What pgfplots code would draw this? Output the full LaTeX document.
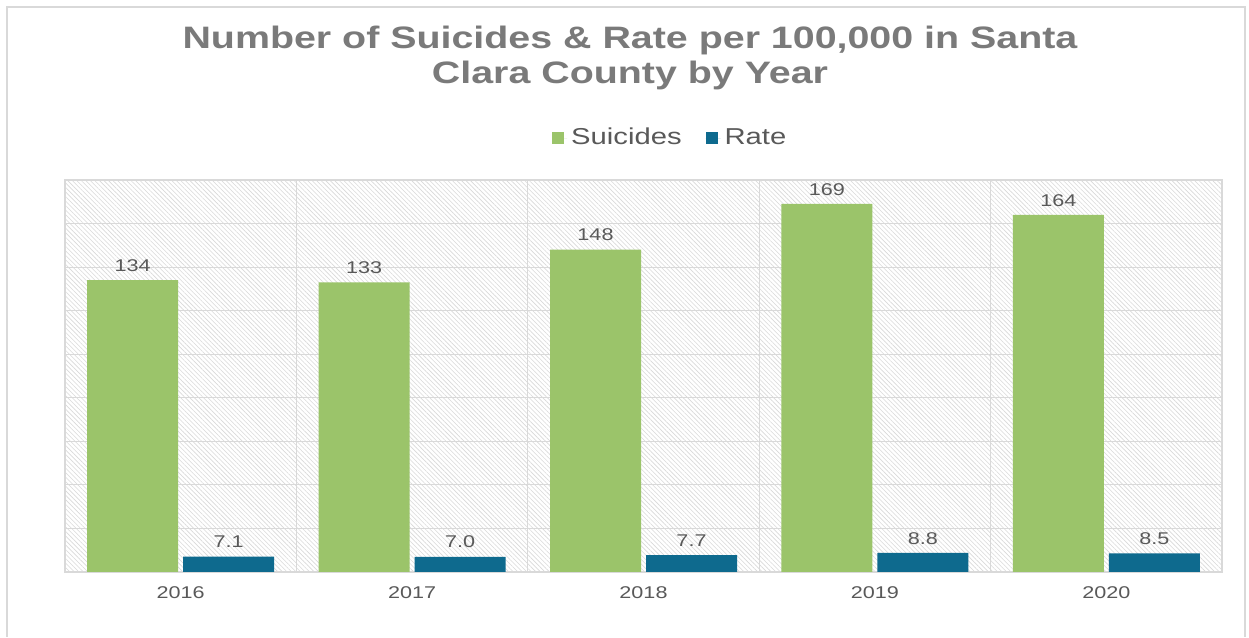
\documentclass[border=0pt]{standalone}
\usepackage{pgfplots}
\pgfplotsset{compat=1.18}
\usepackage{fontspec}
\setmainfont{Liberation Sans}[FakeStretch=1.27]
\usetikzlibrary{patterns.meta}
\definecolor{txtgray}{HTML}{595959}
\definecolor{titlegray}{HTML}{7A7A7A}
\definecolor{sgreen}{HTML}{9BC46A}
\definecolor{rblue}{HTML}{0E6A8E}
\definecolor{gridgray}{HTML}{D9D9D9}
\begin{document}
\begin{tikzpicture}
\path[fill=white] (0,0) rectangle (624.5pt,318.5pt);
\draw[gray!30, line width=0.8pt] (3.5pt,0) -- (3.5pt,315pt) -- (622.5pt,315pt) -- (622.5pt,0);
\node[align=center, text=titlegray, font=\fontsize{15.5}{17.5}\selectfont\bfseries] at (315pt,289.3pt)
  {Number of Suicides \& Rate per 100,000 in Santa\\Clara County by Year};
\begin{axis}[
  at={(32.5pt,32.5pt)}, anchor=south west,
  scale only axis, width=578.5pt, height=196pt,
  ybar, bar width=45.5pt, ybar=2.5pt,
  xmin=-0.5, xmax=4.5, ymin=0, ymax=180,
  xtick={0,1,2,3,4}, xticklabels={2016,2017,2018,2019,2020},
  minor xtick={0.5,1.5,2.5,3.5}, xminorgrids=true,
  ytick={0,20,...,180}, yticklabels={}, ymajorgrids=true,
  major tick length=0, minor tick length=0,
  grid style={gridgray, line width=0.6pt},
  minor grid style={gridgray, line width=0.6pt},
  axis line style={gridgray, line width=0.6pt},
  axis background/.style={pattern={Lines[angle=-45,distance=1.6pt,line width=0.3pt]}, pattern color=gray!30},
  tick label style={text=txtgray, font=\fontsize{8.5}{10}\selectfont},
  xticklabel style={yshift=-4pt},
  /pgf/number format/assume math mode=true,
  nodes near coords style={text=txtgray, font=\fontsize{8.5}{10}\selectfont, anchor=south, yshift=0.8pt},
  legend columns=2,
  legend style={at={(0.524,1.107)}, anchor=center, draw=none, fill=none,
    font=\fontsize{11.5}{13}\selectfont, text=txtgray,
    /tikz/every even column/.append style={column sep=10pt}},
  legend image code/.code={\fill[#1] (0pt,-3pt) rectangle (6pt,3pt); \path (0pt,0pt) -- (7.5pt,0pt);},
]
\addplot[fill=sgreen, draw=none,
  nodes near coords={\pgfmathprintnumber[fixed,precision=0]{\pgfplotspointmeta}}]
  coordinates {(0,134) (1,133) (2,148) (3,169) (4,164)};
\addplot[fill=rblue, draw=none,
  nodes near coords={\pgfmathprintnumber[fixed,fixed zerofill,precision=1]{\pgfplotspointmeta}}]
  coordinates {(0,7.1) (1,7.0) (2,7.7) (3,8.8) (4,8.5)};
\legend{Suicides,Rate}
\end{axis}
\end{tikzpicture}
\end{document}
